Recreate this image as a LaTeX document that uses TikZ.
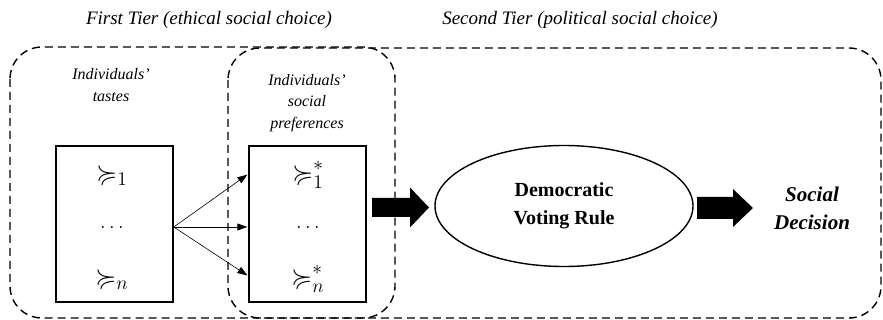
\documentclass[tikz,border=0pt]{standalone}
\usepackage{amssymb}
\usepackage{fontspec}
\setmainfont{Liberation Serif}
\usetikzlibrary{arrows.meta,shapes.geometric}
\begin{document}
\begin{tikzpicture}[x=1pt,y=-1pt,
  tier/.style={draw,line width=1.4pt,dash pattern=on 8pt off 5pt,rounded corners=32pt},
  prefbox/.style={draw,line width=1.5pt,minimum width=117pt,minimum height=156pt,inner sep=0pt},
  lbl/.style={font=\fontsize{16}{21.5}\selectfont\itshape,align=center,inner sep=0pt},
  sym/.style={font=\fontsize{20}{22}\selectfont,inner sep=0pt},
  thin/.style={-{Triangle[length=10pt,width=7pt]},line width=0.6pt,shorten >=1pt},
  block/.style={fill=black}
]
\useasboundingbox (0,0) rectangle (883,320);
% titles
\node[font=\fontsize{19}{22}\selectfont\itshape,inner sep=0pt] (t1) at (209,20) {First Tier (ethical social choice)};
\node[font=\fontsize{19}{22}\selectfont\itshape,inner sep=0pt] (t2) at (580,20) {Second Tier (political social choice)};
% tier regions
\draw[tier] (10,47) rectangle (395,318);
\draw[tier] (228,48) rectangle (881,318);
% labels
\node[lbl] (l1) at (111,85) {Individuals'\\tastes};
\node[lbl] (l2) at (307,103) {Individuals'\\social\\preferences};
% boxes
\node[prefbox] (b1) at (114.5,224) {};
\node[prefbox] (b2) at (307.5,224) {};
\node[sym] (p1) at (112,175) {\scalebox{1.35}{$\succcurlyeq_1$}};
\node[sym] (d1) at (112,227) {$\ldots$};
\node[sym] (n1) at (112,279) {\scalebox{1.35}{$\succcurlyeq_n$}};
\node[sym] (p2) at (308,175) {\scalebox{1.35}{$\succcurlyeq_1^{*}$}};
\node[sym] (d2) at (308,227) {$\ldots$};
\node[sym] (n2) at (308,279) {\scalebox{1.35}{$\succcurlyeq_n^{*}$}};
% thin arrows
\coordinate (src) at (b1.east |- 0,227);
\draw[thin] (src) -- (b2.west |- 0,174);
\draw[thin] (src) -- (b2.west |- 0,227);
\draw[thin] (src) -- (b2.west |- 0,276);
% ellipse
\node[draw,ellipse,line width=1.4pt,minimum width=258pt,minimum height=121pt,inner sep=0pt,
  font=\fontsize{20}{28}\selectfont\bfseries,align=center] (vr) at (564,206) {Democratic\\Voting Rule};
\node[font=\fontsize{21}{28}\selectfont\bfseries\itshape,align=center,inner sep=0pt] (sd) at (812,208) {Social\\Decision};
% block arrows
\coordinate (a1) at (372,207.5);
\coordinate (a2) at (697,208);
\fill[block] (a1) ++(0,-9.5) -- ++(38,0) -- ++(0,-10.5) -- ++(19,20) -- ++(-19,20) -- ++(0,-10.5) -- ++(-38,0) -- cycle;
\fill[block] (a2) ++(0,-11) -- ++(36,0) -- ++(0,-8) -- ++(20,19) -- ++(-20,19) -- ++(0,-8) -- ++(-36,0) -- cycle;
\end{tikzpicture}
\end{document}
